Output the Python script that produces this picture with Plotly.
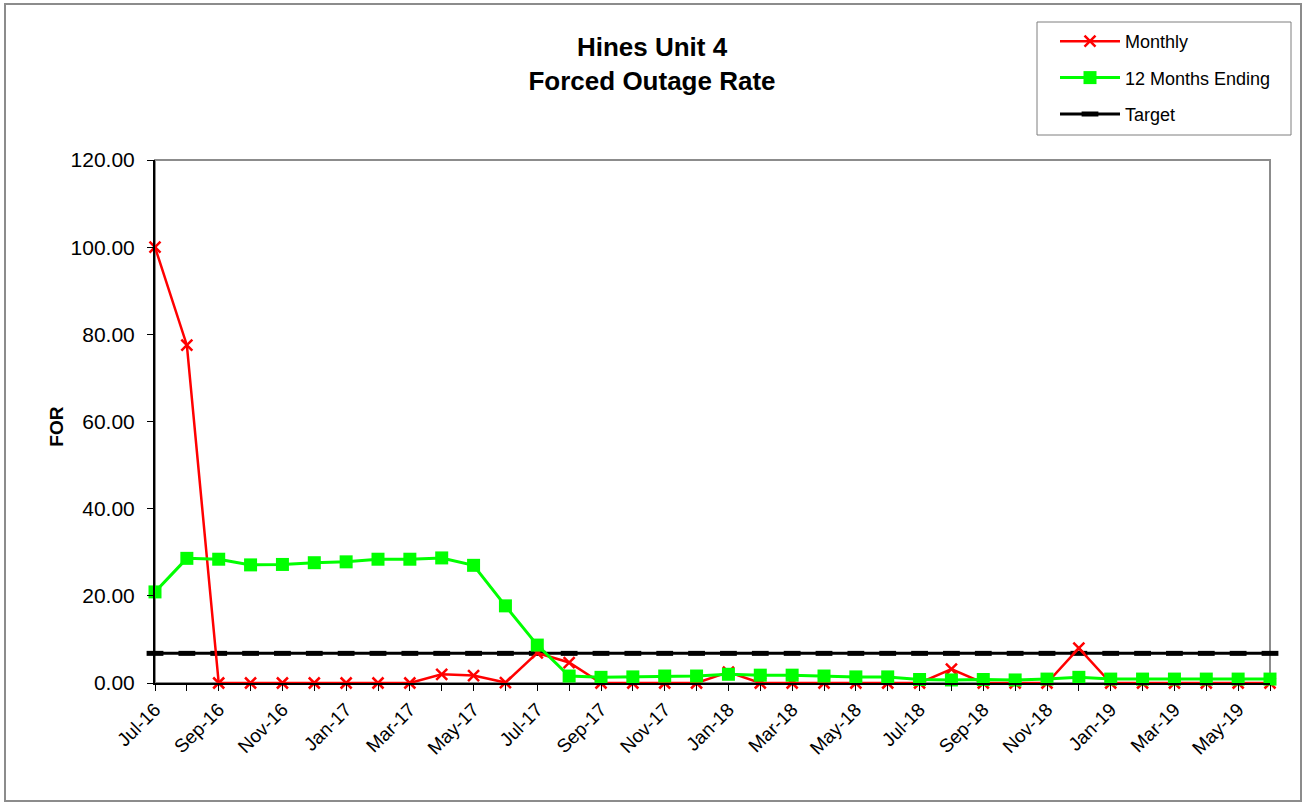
import plotly.graph_objects as go

months = ["Jul-16", "Aug-16", "Sep-16", "Oct-16", "Nov-16", "Dec-16",
          "Jan-17", "Feb-17", "Mar-17", "Apr-17", "May-17", "Jun-17",
          "Jul-17", "Aug-17", "Sep-17", "Oct-17", "Nov-17", "Dec-17",
          "Jan-18", "Feb-18", "Mar-18", "Apr-18", "May-18", "Jun-18",
          "Jul-18", "Aug-18", "Sep-18", "Oct-18", "Nov-18", "Dec-18",
          "Jan-19", "Feb-19", "Mar-19", "Apr-19", "May-19", "Jun-19"]

monthly = [100.0, 77.5, 0.0, 0.0, 0.0, 0.0,
           0.0, 0.0, 0.0, 2.0, 1.7, 0.1,
           6.9, 4.7, 0.0, 0.0, 0.0, 0.0,
           2.5, 0.0, 0.0, 0.0, 0.0, 0.0,
           0.0, 3.2, 0.0, 0.0, 0.0, 8.0,
           0.0, 0.0, 0.0, 0.0, 0.0, 0.0]

twelve_month = [20.9, 28.6, 28.4, 27.1, 27.2, 27.6,
                27.8, 28.4, 28.4, 28.7, 27.0, 17.7,
                8.7, 1.6, 1.3, 1.4, 1.6, 1.6,
                2.0, 1.8, 1.8, 1.6, 1.4, 1.4,
                0.8, 0.7, 0.8, 0.7, 0.9, 1.3,
                0.9, 0.9, 0.9, 0.9, 0.9, 0.9]

target = [6.8] * len(months)

y_ticks = [0, 20, 40, 60, 80, 100, 120]

x = list(range(len(months)))
tick_text = [m if i % 2 == 0 else "" for i, m in enumerate(months)]

FONT = "Liberation Sans, Arial, sans-serif"

fig = go.Figure()

fig.add_trace(go.Scatter(
    x=x, y=target, name="Target", legendgroup="c", legendrank=3,
    mode="lines+markers",
    line=dict(color="black", width=3),
    marker=dict(symbol="line-ew", size=12, line=dict(color="black", width=5)),
    cliponaxis=False,
))
fig.add_trace(go.Scatter(
    x=x, y=monthly, name="Monthly", legendgroup="a", legendrank=1,
    mode="lines+markers",
    line=dict(color="#ff0000", width=2.5),
    marker=dict(symbol="x-thin", size=11, color="#ff0000",
                line=dict(color="#ff0000", width=2.5)),
    cliponaxis=False,
))
fig.add_trace(go.Scatter(
    x=x, y=twelve_month, name="12 Months Ending", legendgroup="b", legendrank=2,
    mode="lines+markers",
    line=dict(color="#00ff00", width=3),
    marker=dict(symbol="square", size=13, color="#00ff00"),
    cliponaxis=False,
))

L, R, T, B = 155, 34, 160, 121
W, H = 1304, 804
pw = W - L - R
ph = H - T - B

def px_x(p):
    return (p - L) / pw

def px_y(p):
    return (H - B - p) / ph

shapes = [
    # plot area border (gray)
    dict(type="rect", xref="paper", yref="paper", x0=0, x1=1, y0=0, y1=1,
         line=dict(color="#8c8c8c", width=2), layer="below"),
    # outer chart border
    dict(type="rect", xref="paper", yref="paper",
         x0=px_x(5), x1=px_x(1301), y0=px_y(801), y1=px_y(4),
         line=dict(color="#8c8c8c", width=2), layer="below"),
    # legend frame
    dict(type="rect", xref="paper", yref="paper",
         x0=px_x(1037), x1=px_x(1291), y0=px_y(135), y1=px_y(22),
         line=dict(color="#7f7f7f", width=1), layer="above"),
]

fig.update_layout(
    width=W, height=H,
    margin=dict(l=L, r=R, t=T, b=B),
    paper_bgcolor="white", plot_bgcolor="white",
    font=dict(family=FONT, color="black"),
    title=dict(text="<b>Hines Unit 4<br>Forced Outage Rate</b>",
               x=0.5, xref="container", xanchor="center",
               y=1 - 56 / H, yref="container", yanchor="middle",
               font=dict(size=26, family=FONT, color="black")),
    showlegend=True,
    legend=dict(x=px_x(1055), y=px_y(23), xanchor="left", yanchor="top",
                borderwidth=0, bgcolor="rgba(0,0,0,0)",
                font=dict(size=18, family=FONT, color="black"),
                tracegroupgap=10, itemwidth=60,
                traceorder="grouped"),
    shapes=shapes,
    annotations=[dict(text="<b>FOR</b>", xref="paper", yref="paper",
                      x=px_x(57), y=0.49, textangle=-90, showarrow=False,
                      font=dict(size=19, family=FONT, color="black"),
                      xanchor="center", yanchor="middle")],
)

fig.update_xaxes(
    range=[0, 35], tickmode="array", tickvals=x, ticktext=tick_text,
    tickangle=-45, ticks="outside", ticklen=6, tickcolor="black", tickwidth=1,
    showline=True, linecolor="black", linewidth=2, showgrid=False,
    zeroline=False, tickfont=dict(size=19, family=FONT, color="black"),
)
fig.update_yaxes(
    range=[0, 120], tickmode="array", tickvals=y_ticks,
    ticktext=[f"{v:.2f}" for v in y_ticks],
    ticks="outside", ticklen=6, tickcolor="black", tickwidth=1,
    ticklabelstandoff=8,
    showline=True, linecolor="black", linewidth=2, showgrid=False,
    zeroline=False, tickfont=dict(size=21, family=FONT, color="black"),
)

fig.write_html("out.html")
